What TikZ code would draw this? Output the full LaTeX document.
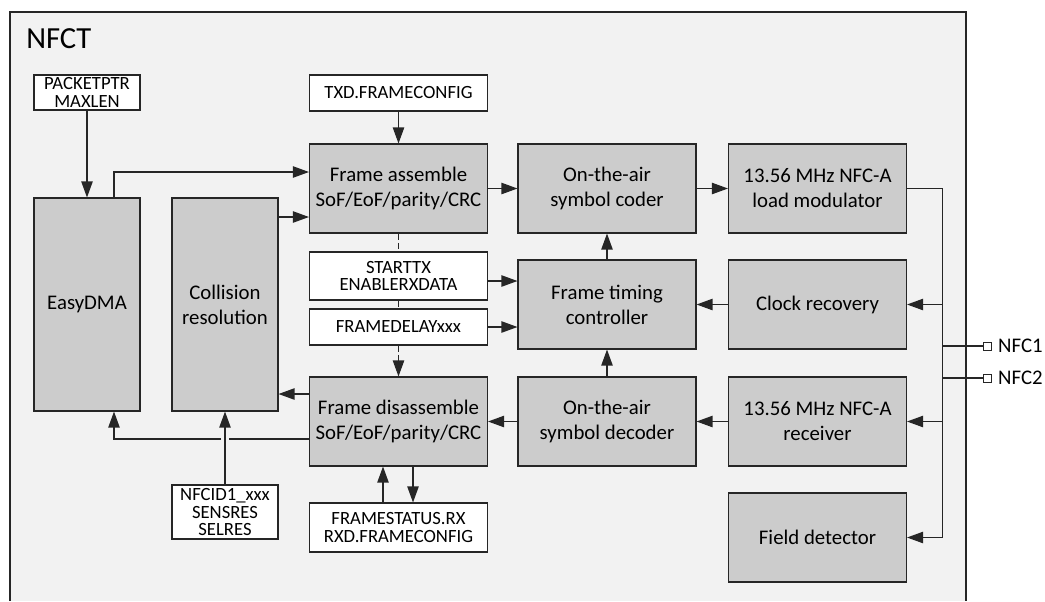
\documentclass[tikz,border=0pt]{standalone}
\usepackage{fontspec}
\setmainfont{Carlito}
\usepackage{tikz}
\usetikzlibrary{calc,arrows.meta,positioning}
\definecolor{panel}{HTML}{F2F2F2}
\definecolor{blockfill}{HTML}{CCCCCC}
\definecolor{edge}{HTML}{262626}

\begin{document}
\begin{tikzpicture}[x=0.75pt, y=-0.75pt,
  every node/.style={font=\fontsize{15.6}{18.75}\selectfont, inner sep=0pt},
  block/.style={draw=edge, fill=blockfill, line width=0.8pt, minimum width=133.5pt, minimum height=66.75pt, align=center},
  tallblock/.style={block, minimum width=79.5pt, minimum height=159.75pt},
  reg/.style={draw=edge, fill=white, line width=0.8pt, align=center, font=\fontsize{14}{13}\selectfont},
  arr/.style={edge, line width=0.9pt, -{Triangle[length=12pt,width=8.5pt]}},
  wire/.style={edge, line width=0.9pt}]
\useasboundingbox (0,0) rectangle (1045,601);
% outer peripheral frame (open at the bottom)
\fill[panel] (10,601) -- (10,12) -- (966,12) -- (966,601);
\draw[edge, line width=1pt] (10,601) -- (10,12) -- (966,12) -- (966,601);
\node[anchor=base west, font=\fontsize{23}{23}\selectfont] (title) at (26,48) {NFCT};
% processing blocks
\node[block] (asm) at (398.5,188.5) {Frame assemble\\SoF/EoF/parity/CRC};
\node[block] (coder) at (607,188.5) {On-the-air\\symbol coder};
\node[block] (mod) at (817.5,188.5) {13.56 MHz NFC-A\\load modulator};
\node[block] (timing) at (607,304.5) {Frame timing\\controller};
\node[block] (clock) at (817.5,304.5) {Clock recovery};
\node[block] (dis) at (398.5,421.5) {Frame disassemble\\SoF/EoF/parity/CRC};
\node[block] (dec) at (607,421.5) {On-the-air\\symbol decoder};
\node[block] (rx) at (817.5,421.5) {13.56 MHz NFC-A\\receiver};
\node[block] (field) at (817.5,537.5) {Field detector};
\node[tallblock] (dma) at (87,304.5) {EasyDMA};
\node[tallblock] (coll) at (225,304.5) {Collision\\resolution};
% registers
\node[reg, minimum width=79.5pt, minimum height=26.25pt] (pkt) at (87,92.5) {PACKETPTR\\MAXLEN};
\node[reg, minimum width=133pt, minimum height=27pt] (txd) at (398.5,93) {TXD.FRAMECONFIG};
\node[reg, minimum width=133pt, minimum height=36pt] (start) at (398.5,276) {STARTTX\\ENABLERXDATA};
\node[reg, minimum width=133pt, minimum height=27pt] (delay) at (398.5,327) {FRAMEDELAYxxx};
\node[reg, minimum width=133pt, minimum height=36.75pt, font=\fontsize{14}{14}\selectfont] (fstat) at (398.5,527.5) {FRAMESTATUS.RX\\RXD.FRAMECONFIG};
\node[reg, minimum width=79.5pt, minimum height=40.5pt] (nfcid) at (225,512) {NFCID1\_xxx\\SENSRES\\SELRES};
% transmit path
\draw[arr] (pkt) -- (dma);
\draw[arr] ($(dma.north)+(27,0)$) |- ($(asm.west)+(0,-16.5)$);
\draw[arr] ($(asm.west -| coll.east)+(0,28.5)$) -- ($(asm.west)+(0,28.5)$);
\draw[arr] (txd) -- (asm);
\draw[arr] (asm) -- (coder);
\draw[arr] (coder) -- (mod);
% frame timing
\draw[wire, dash pattern=on 4.5pt off 2.5pt] (asm) -- (start);
\draw[wire, dash pattern=on 4.5pt off 2.5pt] (start) -- (delay);
\draw[arr, dash pattern=on 4.5pt off 2.5pt] (delay) -- (dis);
\draw[arr] ($(start.east)+(0,5)$) -- ($(start.east -| timing.west)+(0,5)$);
\draw[arr] (delay.east) -- (delay.east -| timing.west);
\draw[arr] (timing) -- (coder);
\draw[arr] (dec) -- (timing);
\draw[arr] (clock) -- (timing);
% receive path
\draw[arr] (rx) -- (dec);
\draw[arr] (dec) -- (dis);
\draw[arr] ($(dis.west)+(0,-27.5)$) -- ($(dis.west -| coll.east)+(0,-27.5)$);
\coordinate (lowout) at ($(dis.west)+(0,17.5)$);
\draw[wire] (lowout) -- ($(lowout -| nfcid.north)+(4,0)$);
\draw[arr] ($(lowout -| nfcid.north)+(-4,0)$) -| ($(dma.south)+(27,0)$);
\draw[arr] (nfcid) -- (coll);
\draw[arr] ($(fstat.north)+(-15.5,0)$) -- ($(dis.south)+(-15.5,0)$);
\draw[arr] ($(dis.south)+(14.5,0)$) -- ($(fstat.north)+(14.5,0)$);
% antenna bus and pins
\coordinate (bus) at ($(mod.east)+(35.5,0)$);
\draw[wire] (mod.east) -- (bus) -- (bus |- field.east);
\foreach \blk in {clock,rx,field}{
  \draw[arr] (bus |- \blk.east) -- (\blk.east);
}
\foreach \pin/\yy in {1/346,2/378}{
  \node[draw=edge, fill=white, line width=0.7pt, minimum size=6pt] (nfc\pin) at (987.5,\yy) {};
  \node[anchor=west] (nfclbl\pin) at ($(nfc\pin.east)+(6,0)$) {NFC\pin};
  \draw[wire] (bus |- nfc\pin.west) -- (nfc\pin.west);
}
\end{tikzpicture}
\end{document}
